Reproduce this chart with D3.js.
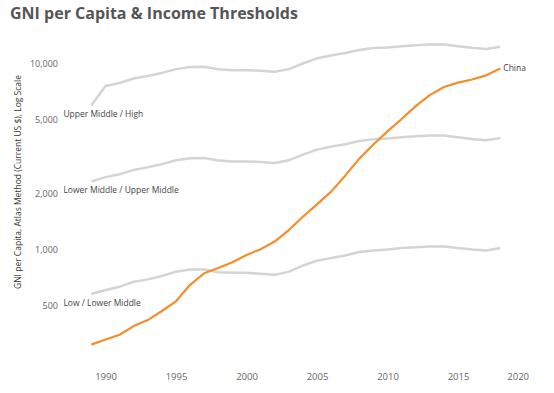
<!DOCTYPE html>
<html>
<head>
<meta charset="utf-8">
<script src="https://cdnjs.cloudflare.com/ajax/libs/d3/7.8.5/d3.min.js"></script>
<style>
  body { margin: 0; background: #fff; }
  svg text { font-family: "Open Sans", "DejaVu Sans", sans-serif; }
</style>
</head>
<body>
<svg id="chart" width="554" height="393"></svg>
<script>
const years = d3.range(1989, 2019);

// World Bank income thresholds (Atlas method, current US$)
const lowLowerMiddle = [580, 610, 635, 675, 695, 725, 765, 785, 785, 760, 755, 755, 745, 735, 765,
  825, 875, 905, 935, 975, 995, 1005, 1025, 1035, 1045, 1045, 1025, 1005, 995, 1025];
const lowerUpperMiddle = [2335, 2465, 2555, 2695, 2785, 2895, 3035, 3115, 3125, 3030, 2995, 2995, 2975, 2935, 3035,
  3255, 3465, 3595, 3705, 3855, 3945, 3975, 4035, 4085, 4125, 4125, 4035, 3955, 3895, 3995];
const upperMiddleHigh = [6000, 7620, 7910, 8355, 8625, 8955, 9385, 9645, 9655, 9360, 9265, 9265, 9205, 9075, 9385,
  10065, 10725, 11115, 11455, 11905, 12195, 12275, 12475, 12615, 12745, 12735, 12475, 12235, 12055, 12375];

// China GNI per capita
const china = [310, 330, 350, 390, 420, 470, 530, 650, 750, 800, 860, 940, 1010, 1110, 1280,
  1510, 1760, 2060, 2510, 3100, 3690, 4340, 5060, 5940, 6800, 7520, 7940, 8250, 8690, 9470];

const thresholdNames = ["Low / Lower Middle", "Lower Middle / Upper Middle", "Upper Middle / High"];
const xTicks = [1990, 1995, 2000, 2005, 2010, 2015, 2020];
const yTicks = [500, 1000, 2000, 5000, 10000];

const svg = d3.select("#chart");

const x = d3.scaleLinear().domain([1988, 2020]).range([77.3, 528.5]);
const y = d3.scaleLog().domain([1000, 10000]).range([250, 64]);

// title
svg.append("text")
  .attr("x", 10)
  .attr("y", 19)
  .attr("fill", "#555")
  .attr("font-size", 16)
  .attr("font-weight", 700)
  .text("GNI per Capita & Income Thresholds");

// y axis
const yAxis = svg.append("g")
  .attr("transform", "translate(58,0)")
  .call(d3.axisLeft(y).tickValues(yTicks).tickFormat(d3.format(",")).tickSize(0).tickPadding(0));
yAxis.select(".domain").remove();
yAxis.selectAll("text")
  .attr("fill", "#666")
  .attr("font-size", 9)
  .style("font-family", "'Open Sans', sans-serif");

svg.append("text")
  .attr("transform", "translate(21,182) rotate(-90)")
  .attr("text-anchor", "middle")
  .attr("fill", "#333")
  .attr("font-size", 8.5)
  .text("GNI per Capita, Atlas Method (Current US $), Log Scale");

// x axis
const xAxis = svg.append("g")
  .attr("transform", "translate(0,373)")
  .call(d3.axisBottom(x).tickValues(xTicks).tickFormat(d3.format("d")).tickSize(0).tickPadding(0));
xAxis.select(".domain").remove();
xAxis.selectAll("text")
  .attr("fill", "#666")
  .attr("font-size", 9.5)
  .style("font-family", "'Open Sans', sans-serif");
xAxis.selectAll(".tick").filter(d => d === 2020).select("text").attr("text-anchor", "end");

const line = d3.line()
  .x((d, i) => x(years[i]))
  .y(d => y(d));

const thresholds = [lowLowerMiddle, lowerUpperMiddle, upperMiddleHigh];

svg.append("g")
  .selectAll("path")
  .data(thresholds)
  .enter()
  .append("path")
  .attr("d", line)
  .attr("fill", "none")
  .attr("stroke", "#d4d4d4")
  .attr("stroke-width", 2.5)
  .attr("stroke-linejoin", "round");

svg.append("g")
  .selectAll("text")
  .data(thresholds)
  .enter()
  .append("text")
  .attr("x", x(years[0]) - 28)
  .attr("y", d => y(d[0]) + 12)
  .attr("fill", "#444")
  .attr("font-size", 8.5)
  .text((d, i) => thresholdNames[i]);

svg.append("path")
  .datum(china)
  .attr("d", line)
  .attr("fill", "none")
  .attr("stroke", "#f28e2b")
  .attr("stroke-width", 2.2)
  .attr("stroke-linejoin", "round");

svg.append("text")
  .attr("x", x(years[years.length - 1]) + 3)
  .attr("y", y(china[china.length - 1]) + 3)
  .attr("fill", "#444")
  .attr("font-size", 8.5)
  .text("China");
</script>
</body>
</html>
